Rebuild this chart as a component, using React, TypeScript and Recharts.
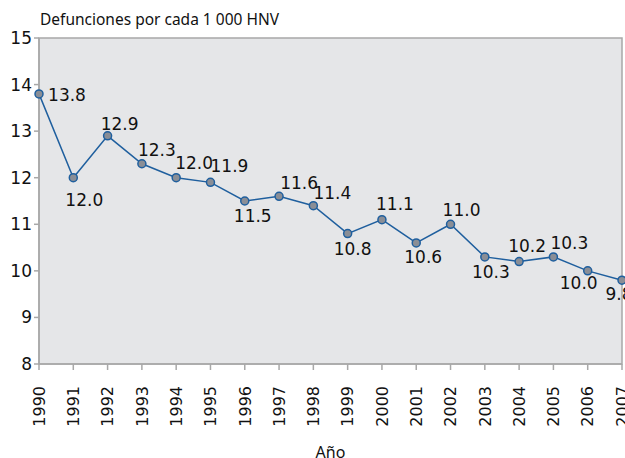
import { LineChart, Line, XAxis, YAxis, ReferenceArea, LabelList } from 'recharts'

const years = [1990, 1991, 1992, 1993, 1994, 1995, 1996, 1997, 1998, 1999, 2000, 2001, 2002, 2003, 2004, 2005, 2006, 2007]
const rates = [13.8, 12.0, 12.9, 12.3, 12.0, 11.9, 11.5, 11.6, 11.4, 10.8, 11.1, 10.6, 11.0, 10.3, 10.2, 10.3, 10.0, 9.8]
const yTicks = [8, 9, 10, 11, 12, 13, 14, 15]

// label offsets from each point (centre of text)
const labelOffsets: [number, number][] = [
  [28, 1], [11, 22], [12, -12], [15, -14], [18, -15], [19, -16], [8, 15], [20, -13], [19, -13],
  [5, 15], [13, -16], [7, 14], [11, -14], [6, 15], [8, -16], [16, -14], [-9, 12], [-3, 14],
]

const chartData = years.map((year, i) => ({ year, rate: rates[i] }))

const labelFont = '"DejaVu Sans", sans-serif'

function YearTick({ x, y, payload }: any) {
  return (
    <text
      x={x}
      y={y + 14}
      transform={`rotate(-90, ${x}, ${y + 14})`}
      textAnchor='end'
      dy='0.36em'
      fontSize={16}
      fontFamily={labelFont}
      fill='#111'
    >
      {payload.value}
    </text>
  )
}

function PointLabel({ x, y, value, index }: any) {
  const [dx, dy] = labelOffsets[index] ?? [0, -12]
  return (
    <text
      x={x + dx}
      y={y + dy}
      dy='0.36em'
      textAnchor='middle'
      fontSize={17}
      fontFamily={labelFont}
      fill='#111'
    >
      {Number(value).toFixed(1)}
    </text>
  )
}

export default function App() {
  return (
    <div style={{ position: 'absolute', left: 0, top: 0, background: '#fff', width: 625, height: 458 }}>
      <LineChart
        width={625}
        height={458}
        data={chartData}
        margin={{ top: 38, right: 3, bottom: 0, left: 0 }}
      >
        <ReferenceArea
          x1={1990}
          x2={2007}
          y1={8}
          y2={15}
          fill='#e5e6e8'
          fillOpacity={1}
          stroke='#a8a8a8'
          strokeWidth={1.5}
        />
        <XAxis
          dataKey='year'
          type='number'
          domain={[1990, 2007]}
          ticks={years}
          interval={0}
          height={94}
          stroke='#a8a8a8'
          strokeWidth={1.5}
          tickSize={6}
          tick={<YearTick />}
          label={{
            value: 'Año',
            position: 'insideBottom',
            offset: 0,
            fontSize: 16,
            fontFamily: '"Noto Sans", sans-serif',
            fill: '#111',
          }}
        />
        <YAxis
          domain={[8, 15]}
          ticks={yTicks}
          width={39}
          stroke='#a8a8a8'
          strokeWidth={1.5}
          tickSize={5}
          tickMargin={2}
          tick={{ fontSize: 17, fontFamily: labelFont, fill: '#111' }}
          label={{
            content: () => (
              <text x={40} y={25} fontSize={15.5} fontFamily='"Noto Sans", sans-serif' fill='#111'>
                Defunciones por cada 1 000 HNV
              </text>
            ),
          }}
        />
        <Line
          type='linear'
          dataKey='rate'
          stroke='#1f5f9e'
          strokeWidth={1.5}
          dot={{ r: 4, fill: '#8a8e96', stroke: '#1f5f9e', strokeWidth: 1.5 }}
          isAnimationActive={false}
        >
          <LabelList dataKey='rate' content={<PointLabel />} />
        </Line>
      </LineChart>
    </div>
  )
}
